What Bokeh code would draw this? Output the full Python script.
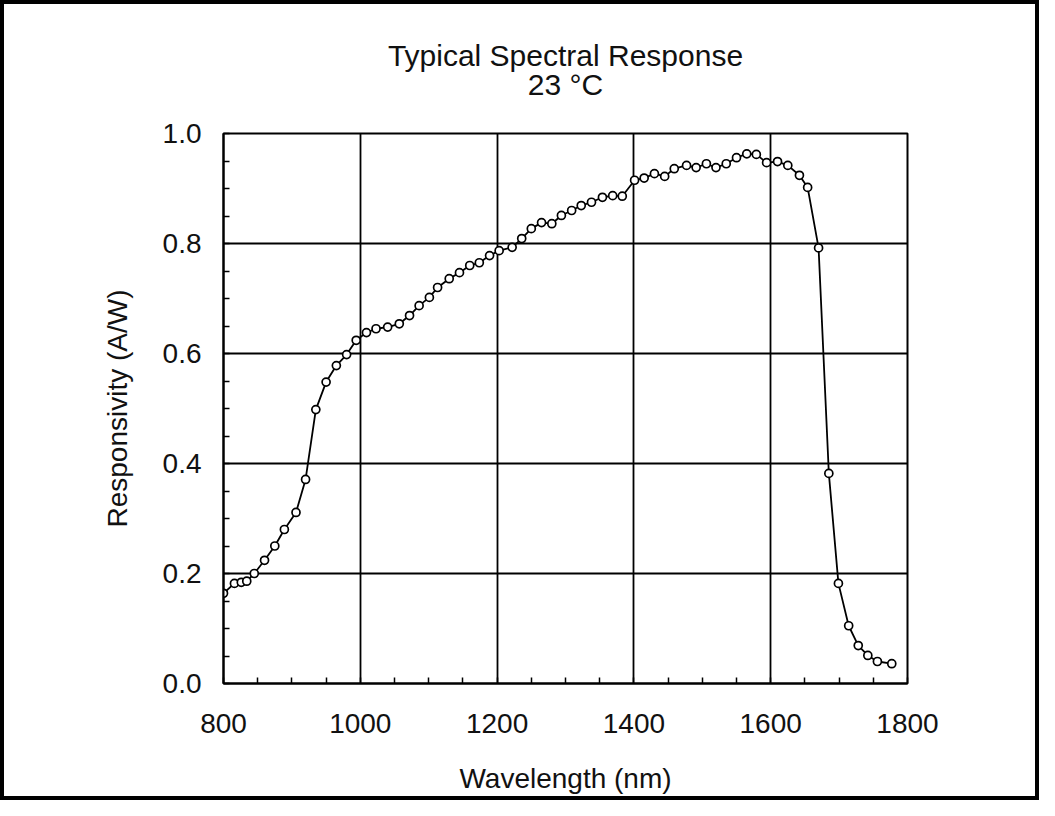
from bokeh.plotting import figure
from bokeh.models import Range1d, Title, SingleIntervalTicker, PrintfTickFormatter
from bokeh.embed import file_html
from bokeh.resources import INLINE

# Data
wavelength = [800, 816, 826, 834, 845, 860, 875, 889, 906, 920,
              935, 950, 965, 980, 994, 1009, 1023, 1040, 1057, 1072,
              1086, 1101, 1113, 1130, 1145, 1160, 1174, 1189, 1203, 1222,
              1236, 1250, 1265, 1280, 1294, 1309, 1323, 1338, 1354, 1369,
              1383, 1401, 1415, 1430, 1445, 1459, 1477, 1491, 1506, 1520,
              1535, 1550, 1565, 1579, 1594, 1610, 1625, 1642, 1654, 1670,
              1685, 1699, 1714, 1728, 1742, 1756, 1777]
responsivity = [0.164, 0.182, 0.184, 0.186, 0.200, 0.224, 0.250, 0.280, 0.311, 0.371,
                0.498, 0.548, 0.578, 0.598, 0.624, 0.638, 0.645, 0.648, 0.654, 0.669,
                0.687, 0.702, 0.720, 0.736, 0.747, 0.760, 0.765, 0.778, 0.787, 0.793,
                0.809, 0.827, 0.838, 0.836, 0.851, 0.860, 0.869, 0.875, 0.884, 0.887,
                0.886, 0.915, 0.919, 0.927, 0.922, 0.936, 0.942, 0.938, 0.945, 0.938,
                0.945, 0.956, 0.963, 0.962, 0.947, 0.949, 0.942, 0.924, 0.902, 0.792,
                0.382, 0.182, 0.105, 0.069, 0.051, 0.040, 0.036]

title_line1 = "Typical Spectral Response"
title_line2 = "23 °C"
x_label = "Wavelength (nm)"
y_label = "Responsivity (A/W)"

FONT = "Liberation Sans"
INK = "#111111"

p = figure(width=1039, height=800, output_backend="svg", toolbar_location=None,
           x_range=Range1d(800, 1800), y_range=Range1d(0, 1.0),
           min_border_left=219, min_border_right=136,
           min_border_top=129, min_border_bottom=121,
           title=None,
           styles={"border": "4px solid black"})

# closest to the plot first
p.add_layout(Title(text=title_line2, align="center", text_font=FONT,
                   text_font_size="30px", text_font_style="normal",
                   text_color=INK, standoff=65), "above")
p.add_layout(Title(text=title_line1, align="center", text_font=FONT,
                   text_font_size="30px", text_font_style="normal",
                   text_color=INK, standoff=-76), "above")

p.background_fill_color = "white"
p.border_fill_color = "white"
p.outline_line_color = "black"
p.outline_line_width = 2
p.outline_line_alpha = 1.0

p.xaxis.ticker = SingleIntervalTicker(interval=200, num_minor_ticks=4)
p.yaxis.ticker = SingleIntervalTicker(interval=0.2, num_minor_ticks=4)
p.yaxis.formatter = PrintfTickFormatter(format="%.1f")

for ax in (p.xaxis, p.yaxis):
    ax.axis_line_color = "black"
    ax.axis_line_width = 2
    ax.major_tick_out = 0
    ax.major_tick_in = 0
    ax.minor_tick_out = 0
    ax.minor_tick_in = 6
    ax.minor_tick_line_color = "black"
    ax.minor_tick_line_width = 1.5
    ax.major_label_text_font = FONT
    ax.major_label_text_font_size = "28px"
    ax.major_label_text_color = INK
    ax.axis_label_text_font = FONT
    ax.axis_label_text_font_size = "28px"
    ax.axis_label_text_font_style = "normal"
    ax.axis_label_text_color = INK

p.xaxis.axis_label = x_label
p.yaxis.axis_label = y_label
p.xaxis.major_label_standoff = 30
p.yaxis.major_label_standoff = 22
p.xaxis.axis_label_standoff = 27
p.yaxis.axis_label_standoff = 27

p.xgrid.grid_line_color = "black"
p.ygrid.grid_line_color = "black"
p.xgrid.grid_line_width = 1.8
p.ygrid.grid_line_width = 1.8
p.xgrid.grid_line_alpha = 1.0
p.ygrid.grid_line_alpha = 1.0

p.line(wavelength, responsivity, line_color="black", line_width=1.8)
p.scatter(wavelength, responsivity, marker="circle", size=8,
          line_color="black", line_width=1.7, fill_color="white")

open("out.html", "w").write(file_html(p, INLINE))
